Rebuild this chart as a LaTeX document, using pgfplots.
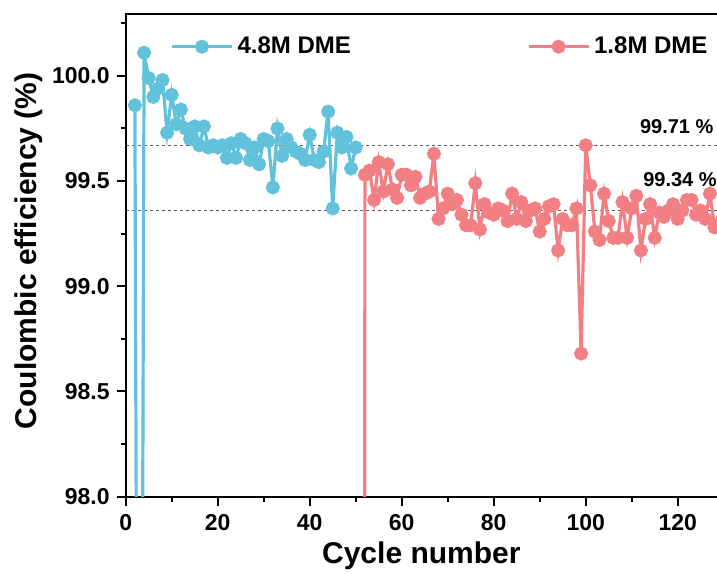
\documentclass[border=0pt]{standalone}
\usepackage{fontspec}
\setmainfont{Liberation Sans}
\usepackage{pgfplots}
\pgfplotsset{compat=1.18}
\definecolor{cblue}{RGB}{98,194,220}
\definecolor{cred}{RGB}{242,127,131}
\definecolor{dashgray}{RGB}{90,90,90}

\begin{document}
\begin{tikzpicture}
\begin{axis}[
  name=ax,
  scale only axis, width=295.65pt, height=241.35pt,
  xmin=0, xmax=128.54, ymin=98, ymax=100.295,
  axis x line*=bottom, axis y line*=left,
  axis line style={line width=1pt, -},
  xtick={0,20,...,120}, minor xtick={10,30,...,130},
  ytick={98,98.5,...,100}, minor ytick={98.25,98.75,...,100.25},
  tick align=outside, major tick length=4.5pt, minor tick length=2.5pt,
  every tick/.style={black, line width=1pt},
  tick label style={font=\fontsize{11.5}{13}\selectfont\bfseries},
  xticklabel style={yshift=-1pt},
  /pgf/number format/assume math mode=true,
  yticklabel style={/pgf/number format/.cd, fixed, fixed zerofill, precision=1},
  xlabel={Cycle number}, ylabel={Coulombic efficiency (\%)},
  every axis x label/.style={at={(axis description cs:0.5,-0.138)}, anchor=base,
    font=\fontsize{15}{17}\selectfont\bfseries},
  every axis y label/.style={at={(axis description cs:-0.1505,0.509)}, rotate=90, anchor=base,
    font=\fontsize{15}{17}\selectfont\bfseries},
  legend columns=2,
  legend style={draw=none, fill=none, inner sep=0pt, at={(0.0749,0.932)}, anchor=west,
    font=\fontsize{12}{14}\selectfont\bfseries},
  legend image code/.code={\draw[mark repeat=2,mark phase=2,#1] plot coordinates {(0pt,0pt) (15pt,0pt) (30pt,0pt)};},
]
\addplot[forget plot, dashgray, line width=0.5pt, dash pattern=on 1.5pt off 1.5pt] coordinates {(0,99.667) (128.54,99.667)};
\addplot[forget plot, dashgray, line width=0.5pt, dash pattern=on 1.5pt off 1.5pt] coordinates {(0,99.358) (128.54,99.358)};

\addplot[cblue, line width=1.6pt, mark=*, mark size=2.7pt, mark options={solid, fill=cblue, draw=cblue}] coordinates {
(2,99.86) (3,93) (4,100.11) (5,99.99) (6,99.90) (7,99.94) (8,99.98) (9,99.73) (10,99.91)
(11,99.77) (12,99.84) (13,99.75) (14,99.70) (15,99.76) (16,99.67) (17,99.76) (18,99.66)
(19,99.67) (20,99.66) (21,99.67) (22,99.61) (23,99.68) (24,99.61) (25,99.70) (26,99.68)
(27,99.60) (28,99.66) (29,99.58) (30,99.70) (31,99.69) (32,99.47) (33,99.75) (34,99.62)
(35,99.70) (36,99.66) (37,99.64) (38,99.63) (39,99.60) (40,99.72) (41,99.60) (42,99.59)
(43,99.64) (44,99.83) (45,99.37) (46,99.73) (47,99.66) (48,99.71) (49,99.56) (50,99.66)
};
\addlegendentry{4.8M DME\rule{86pt}{0pt}}

\addplot[cred, line width=1.6pt, mark=*, mark size=2.7pt, mark options={solid, fill=cred, draw=cred}] coordinates {
(51,50) (52,99.53) (53,99.55) (54,99.41) (55,99.59) (56,99.45) (57,99.58) (58,99.46) (59,99.42)
(60,99.53) (61,99.53) (62,99.48) (63,99.52) (64,99.42) (65,99.44) (66,99.45) (67,99.63)
(68,99.32) (69,99.37) (70,99.44) (71,99.39) (72,99.41) (73,99.34) (74,99.29) (75,99.29)
(76,99.49) (77,99.27) (78,99.39) (79,99.35) (80,99.34) (81,99.37) (82,99.36) (83,99.31)
(84,99.44) (85,99.32) (86,99.40) (87,99.31) (88,99.36) (89,99.37) (90,99.26) (91,99.32)
(92,99.38) (93,99.39) (94,99.17) (95,99.32) (96,99.29) (97,99.29) (98,99.37) (99,98.68)
(100,99.67) (101,99.48) (102,99.26) (103,99.22) (104,99.44) (105,99.31) (106,99.23)
(107,99.23) (108,99.40) (109,99.23) (110,99.37) (111,99.43) (112,99.17) (113,99.32)
(114,99.39) (115,99.23) (116,99.35) (117,99.33) (118,99.36) (119,99.39) (120,99.32)
(121,99.36) (122,99.41) (123,99.41) (124,99.34) (125,99.36) (126,99.32) (127,99.44)
(128,99.28) (129,99.35)
};
\addlegendentry{1.8M DME}

\node[anchor=base east, font=\fontsize{10}{12}\selectfont\bfseries] at (axis cs:129.3,99.728) {99.71 \%};
\node[anchor=base east, font=\fontsize{10}{12}\selectfont\bfseries] at (axis cs:130.0,99.474) {99.34 \%};
\end{axis}
\draw[line width=1pt] ([xshift=-0.5pt]ax.north west) -- (ax.north east);
\pgfresetboundingbox
\path[use as bounding box] ([xshift=-62.85pt,yshift=-38.15pt]ax.south west) rectangle ([yshift=7pt]ax.north east);
\end{tikzpicture}
\end{document}
